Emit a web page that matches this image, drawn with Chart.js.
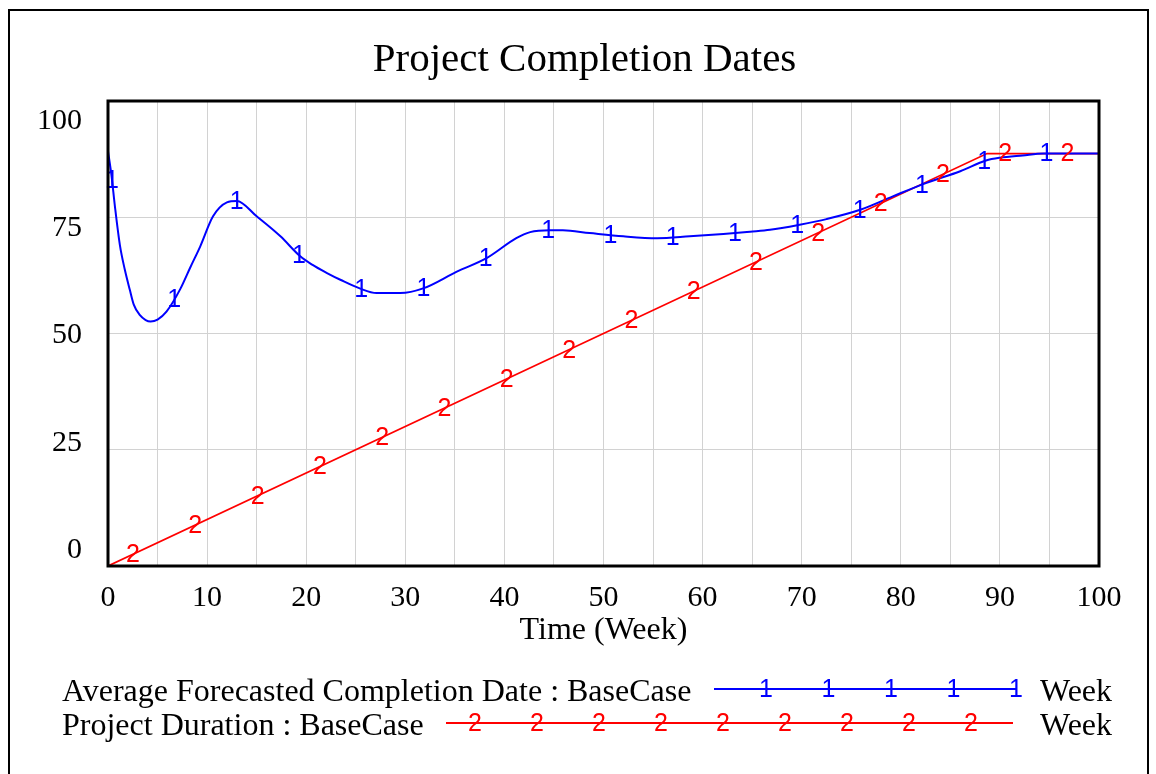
<!DOCTYPE html>
<html><head><meta charset="utf-8">
<script src="https://cdn.jsdelivr.net/npm/chart.js@4/dist/chart.umd.min.js"></script>
<style>html,body{margin:0;padding:0;background:#fff;}#wrap{width:1156px;height:774px;}</style>
</head><body><div id="wrap"><canvas id="c" width="1156" height="774"></canvas></div>
<script>
const TITLE = 'Project Completion Dates';
const X_TITLE = 'Time (Week)';
const UNIT = 'Week';
const SERIES_NAMES = ['Average Forecasted Completion Date : BaseCase', 'Project Duration : BaseCase'];
const SERIES_MARKS = ['1', '2'];
const SERIES_COLORS = ['#0000ff', '#ff0000'];
const xTicks = [0, 10, 20, 30, 40, 50, 60, 70, 80, 90, 100];
const yTicks = [0, 25, 50, 75, 100];

const forecastWeeks = [0, 0.35, 0.7, 1.2, 1.7, 2.2, 2.6, 3.2, 3.8, 4.3, 5, 5.9, 7.3, 8.3, 9.3, 10.6, 12, 13, 15, 17.4, 19.4, 20.6, 22.1, 23.5, 25.4, 27.1, 29.5, 31.8, 35.2, 38.2, 41.2, 42.6, 44.6, 45.9, 48.6, 52, 55.4, 58.7, 62.1, 64.8, 66.8, 69.8, 72.5, 75.9, 79.2, 82.6, 86, 88.6, 90, 92.3, 94.4, 100];
const forecastValues = [89.2, 84, 77.3, 69, 63.7, 59.4, 56.2, 54, 52.9, 52.6, 53, 54.7, 59.6, 64.2, 68.7, 75.2, 78.2, 78.5, 75.2, 70.9, 66.6, 64.8, 63.0, 61.5, 59.7, 58.7, 58.7, 59.7, 63.3, 66.2, 70.5, 71.8, 72.2, 72.2, 71.6, 70.9, 70.5, 70.9, 71.4, 71.9, 72.3, 73.4, 74.6, 76.6, 79.5, 82.4, 84.9, 87.2, 87.8, 88.3, 88.7, 88.7];
const durationWeeks = [0, 88.7, 100];
const durationValues = [0, 88.7, 88.7];

const SERIF = '"Liberation Serif", "Times New Roman", serif';
const SANS = '"Liberation Sans", Arial, sans-serif';
const GRID = '#d2d2d2';

function toXY(xs, ys) { return xs.map((x, i) => ({ x: x, y: ys[i] })); }

function yAtPixel(meta, px) {
  const pts = meta.data;
  for (let i = 0; i < pts.length - 1; i++) {
    const a = pts[i], b = pts[i + 1];
    if (px >= a.x && px <= b.x) {
      const f = (b.x === a.x) ? 0 : (px - a.x) / (b.x - a.x);
      return a.y + f * (b.y - a.y);
    }
  }
  return pts[pts.length - 1].y;
}

const decor = {
  id: 'decor',
  afterDatasetsDraw(chart) {
    const ctx = chart.ctx, ca = chart.chartArea;
    ctx.save();
    const starts = [4, 25];
    const spacing = 62.3;
    const markFont = '25px ' + SANS;
    ctx.font = markFont;
    ctx.textAlign = 'center';
    ctx.textBaseline = 'middle';
    chart.data.datasets.forEach((ds, i) => {
      const meta = chart.getDatasetMeta(i);
      ctx.fillStyle = SERIES_COLORS[i];
      for (let px = ca.left + starts[i]; px < ca.right - 8; px += spacing) {
        const py = yAtPixel(meta, px);
        ctx.fillText(SERIES_MARKS[i], px, py + 1);
      }
    });
    ctx.strokeStyle = '#000';
    ctx.lineWidth = 3;
    ctx.strokeRect(ca.left, ca.top, ca.right - ca.left, ca.bottom - ca.top);
    ctx.lineWidth = 2;
    ctx.strokeRect(9, 10, 1139, 800);
    ctx.fillStyle = '#000';
    ctx.font = '41px ' + SERIF;
    ctx.textAlign = 'center';
    ctx.textBaseline = 'alphabetic';
    ctx.fillText(TITLE, 584.5, 71);
    const rows = [
      { y: 701, ly: 689, x0: 714, x1: 1016, m0: 766, mstep: 62.5, n: 5 },
      { y: 735, ly: 723, x0: 446, x1: 1013, m0: 475, mstep: 62, n: 9 }
    ];
    rows.forEach((r, i) => {
      ctx.fillStyle = '#000';
      ctx.font = '32px ' + SERIF;
      ctx.textAlign = 'left';
      ctx.textBaseline = 'alphabetic';
      ctx.fillText(SERIES_NAMES[i], 62, r.y);
      ctx.fillText(UNIT, 1040, r.y);
      ctx.strokeStyle = SERIES_COLORS[i];
      ctx.lineWidth = 2;
      ctx.beginPath();
      ctx.moveTo(r.x0, r.ly);
      ctx.lineTo(r.x1, r.ly);
      ctx.stroke();
      ctx.fillStyle = SERIES_COLORS[i];
      ctx.font = markFont;
      ctx.textAlign = 'center';
      ctx.textBaseline = 'middle';
      for (let k = 0; k < r.n; k++) ctx.fillText(SERIES_MARKS[i], r.m0 + k * r.mstep, r.ly + 1);
    });
    ctx.restore();
  }
};

new Chart(document.getElementById('c'), {
  type: 'line',
  data: {
    datasets: [
      { label: SERIES_NAMES[0], data: toXY(forecastWeeks, forecastValues), borderColor: SERIES_COLORS[0], borderWidth: 2, pointRadius: 0, cubicInterpolationMode: 'monotone', fill: false },
      { label: SERIES_NAMES[1], data: toXY(durationWeeks, durationValues), borderColor: SERIES_COLORS[1], borderWidth: 1.7, pointRadius: 0, tension: 0, fill: false }
    ]
  },
  options: {
    responsive: false,
    animation: false,
    devicePixelRatio: 1,
    layout: { padding: { left: 0, top: 101, right: 57, bottom: 108 } },
    plugins: { legend: { display: false }, title: { display: false }, tooltip: { enabled: false } },
    scales: {
      x: {
        type: 'linear', min: 0, max: 100,
        ticks: { stepSize: 5, autoSkip: false, maxRotation: 0, color: '#000', padding: 14,
          font: { family: SERIF, size: 30 },
          callback: v => xTicks.includes(v) ? String(v) : '' },
        grid: { color: GRID, lineWidth: 1, drawTicks: false },
        border: { display: false },
        title: { display: true, text: X_TITLE, color: '#000', font: { family: SERIF, size: 32 }, padding: { top: 0, bottom: 16 } },
        afterFit: s => { s.height = 100; }
      },
      y: {
        type: 'linear', position: 'left', min: 0, max: 100,
        ticks: { display: false, stepSize: 25 },
        grid: { color: GRID, lineWidth: 1, drawTicks: false },
        border: { display: false },
        afterFit: s => { s.width = 0; }
      },
      yLab: {
        type: 'linear', position: 'left', min: -3.73, max: 104.66,
        afterBuildTicks: s => { s.ticks = yTicks.map(v => ({ value: v })); },
        ticks: { color: '#000', padding: 26, font: { family: SERIF, size: 30 } },
        grid: { display: false, drawTicks: false },
        border: { display: false },
        afterFit: s => { s.width = 108; }
      }
    }
  },
  plugins: [decor]
});
</script></body></html>
